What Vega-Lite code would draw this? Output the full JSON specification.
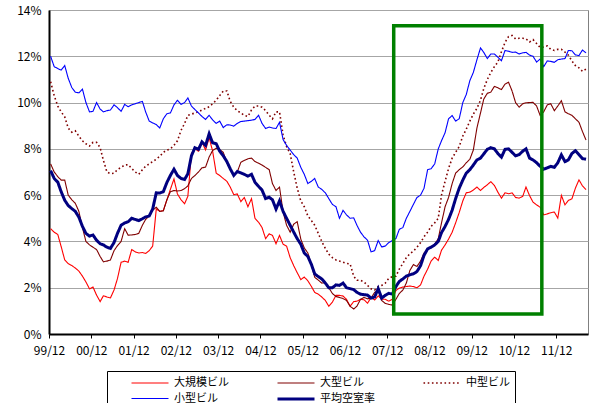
{
"$schema":"https://vega.github.io/schema/vega-lite/v6.json",
"width":539,"height":324,
"autosize":{"type":"none"},
"padding":{"left":49,"top":10,"right":1,"bottom":69},
"config":{"font":"Noto Sans CJK JP","view":{"stroke":"#808080","strokeWidth":1},
"legend":{"orient":"none","legendX":58,"legendY":361,"direction":"horizontal","columns":3,"gridAlign":"all","symbolType":"M-1,0H6.4","symbolSize":100,"labelFont":"Noto Sans CJK JP","labelFontSize":11,"labelColor":"black","labelOffset":31,"columnPadding":29,"rowPadding":3.5,"strokeColor":"black","padding":5,"symbolOffset":18,"title":null}},
"layer":[
{"data":{"values":[
{"t":"1999-12-15","s":"大規模ビル","v":4.55},
{"t":"2000-01-15","s":"大規模ビル","v":4.4},{"t":"2000-02-15","s":"大規模ビル","v":4.3},{"t":"2000-03-15","s":"大規模ビル","v":3.78},{"t":"2000-04-15","s":"大規模ビル","v":3.2},{"t":"2000-05-15","s":"大規模ビル","v":3.04},{"t":"2000-06-15","s":"大規模ビル","v":2.96},{"t":"2000-07-15","s":"大規模ビル","v":2.85},{"t":"2000-08-15","s":"大規模ビル","v":2.72},{"t":"2000-09-15","s":"大規模ビル","v":2.5},{"t":"2000-10-15","s":"大規模ビル","v":2.25},{"t":"2000-11-15","s":"大規模ビル","v":1.95},{"t":"2000-12-15","s":"大規模ビル","v":2.03},
{"t":"2001-01-15","s":"大規模ビル","v":1.68},{"t":"2001-02-15","s":"大規模ビル","v":1.4},{"t":"2001-03-15","s":"大規模ビル","v":1.65},{"t":"2001-04-15","s":"大規模ビル","v":1.6},{"t":"2001-05-15","s":"大規模ビル","v":1.56},{"t":"2001-06-15","s":"大規模ビル","v":1.9},{"t":"2001-07-15","s":"大規模ビル","v":2.4},{"t":"2001-08-15","s":"大規模ビル","v":3.1},{"t":"2001-09-15","s":"大規模ビル","v":3.15},{"t":"2001-10-15","s":"大規模ビル","v":3.1},{"t":"2001-11-15","s":"大規模ビル","v":3.65},{"t":"2001-12-15","s":"大規模ビル","v":3.55},
{"t":"2002-01-15","s":"大規模ビル","v":3.5},{"t":"2002-02-15","s":"大規模ビル","v":3.52},{"t":"2002-03-15","s":"大規模ビル","v":3.48},{"t":"2002-04-15","s":"大規模ビル","v":3.6},{"t":"2002-05-15","s":"大規模ビル","v":3.8},{"t":"2002-06-15","s":"大規模ビル","v":5.4},{"t":"2002-07-15","s":"大規模ビル","v":5.3},{"t":"2002-08-15","s":"大規模ビル","v":5.34},{"t":"2002-09-15","s":"大規模ビル","v":5.8},{"t":"2002-10-15","s":"大規模ビル","v":6.25},{"t":"2002-11-15","s":"大規模ビル","v":6.7},{"t":"2002-12-15","s":"大規模ビル","v":6.05},
{"t":"2003-01-15","s":"大規模ビル","v":5.8},{"t":"2003-02-15","s":"大規模ビル","v":5.63},{"t":"2003-03-15","s":"大規模ビル","v":5.95},{"t":"2003-04-15","s":"大規模ビル","v":7.8},{"t":"2003-05-15","s":"大規模ビル","v":8.0},{"t":"2003-06-15","s":"大規模ビル","v":7.9},{"t":"2003-07-15","s":"大規模ビル","v":8.3},{"t":"2003-08-15","s":"大規模ビル","v":7.95},{"t":"2003-09-15","s":"大規模ビル","v":8.48},{"t":"2003-10-15","s":"大規模ビル","v":7.9},{"t":"2003-11-15","s":"大規模ビル","v":6.95},{"t":"2003-12-15","s":"大規模ビル","v":6.85},
{"t":"2004-01-15","s":"大規模ビル","v":6.72},{"t":"2004-02-15","s":"大規模ビル","v":6.6},{"t":"2004-03-15","s":"大規模ビル","v":6.35},{"t":"2004-04-15","s":"大規模ビル","v":6.02},{"t":"2004-05-15","s":"大規模ビル","v":6.05},{"t":"2004-06-15","s":"大規模ビル","v":5.72},{"t":"2004-07-15","s":"大規模ビル","v":5.9},{"t":"2004-08-15","s":"大規模ビル","v":5.5},{"t":"2004-09-15","s":"大規模ビル","v":5.85},{"t":"2004-10-15","s":"大規模ビル","v":5.0},{"t":"2004-11-15","s":"大規模ビル","v":4.83},{"t":"2004-12-15","s":"大規模ビル","v":4.6},
{"t":"2005-01-15","s":"大規模ビル","v":4.12},{"t":"2005-02-15","s":"大規模ビル","v":4.33},{"t":"2005-03-15","s":"大規模ビル","v":4.26},{"t":"2005-04-15","s":"大規模ビル","v":3.9},{"t":"2005-05-15","s":"大規模ビル","v":4.26},{"t":"2005-06-15","s":"大規模ビル","v":3.88},{"t":"2005-07-15","s":"大規模ビル","v":3.8},{"t":"2005-08-15","s":"大規模ビル","v":3.3},{"t":"2005-09-15","s":"大規模ビル","v":2.95},{"t":"2005-10-15","s":"大規模ビル","v":2.65},{"t":"2005-11-15","s":"大規模ビル","v":2.35},{"t":"2005-12-15","s":"大規模ビル","v":2.46},
{"t":"2006-01-15","s":"大規模ビル","v":2.3},{"t":"2006-02-15","s":"大規模ビル","v":2.05},{"t":"2006-03-15","s":"大規模ビル","v":1.8},{"t":"2006-04-15","s":"大規模ビル","v":1.72},{"t":"2006-05-15","s":"大規模ビル","v":1.6},{"t":"2006-06-15","s":"大規模ビル","v":1.45},{"t":"2006-07-15","s":"大規模ビル","v":1.2},{"t":"2006-08-15","s":"大規模ビル","v":1.38},{"t":"2006-09-15","s":"大規模ビル","v":1.67},{"t":"2006-10-15","s":"大規模ビル","v":1.67},{"t":"2006-11-15","s":"大規模ビル","v":1.64},{"t":"2006-12-15","s":"大規模ビル","v":1.5},
{"t":"2007-01-15","s":"大規模ビル","v":1.2},{"t":"2007-02-15","s":"大規模ビル","v":1.4},{"t":"2007-03-15","s":"大規模ビル","v":1.42},{"t":"2007-04-15","s":"大規模ビル","v":1.5},{"t":"2007-05-15","s":"大規模ビル","v":1.48},{"t":"2007-06-15","s":"大規模ビル","v":1.33},{"t":"2007-07-15","s":"大規模ビル","v":1.58},{"t":"2007-08-15","s":"大規模ビル","v":1.47},{"t":"2007-09-15","s":"大規模ビル","v":1.65},{"t":"2007-10-15","s":"大規模ビル","v":1.5},{"t":"2007-11-15","s":"大規模ビル","v":1.5},{"t":"2007-12-15","s":"大規模ビル","v":1.42},
{"t":"2008-01-15","s":"大規模ビル","v":1.5},{"t":"2008-02-15","s":"大規模ビル","v":1.88},{"t":"2008-03-15","s":"大規模ビル","v":1.98},{"t":"2008-04-15","s":"大規模ビル","v":2.03},{"t":"2008-05-15","s":"大規模ビル","v":2.05},{"t":"2008-06-15","s":"大規模ビル","v":2.07},{"t":"2008-07-15","s":"大規模ビル","v":2.05},{"t":"2008-08-15","s":"大規模ビル","v":2.0},{"t":"2008-09-15","s":"大規模ビル","v":2.12},{"t":"2008-10-15","s":"大規模ビル","v":2.5},{"t":"2008-11-15","s":"大規模ビル","v":2.8},{"t":"2008-12-15","s":"大規模ビル","v":3.15},
{"t":"2009-01-15","s":"大規模ビル","v":3.32},{"t":"2009-02-15","s":"大規模ビル","v":3.18},{"t":"2009-03-15","s":"大規模ビル","v":3.62},{"t":"2009-04-15","s":"大規模ビル","v":3.85},{"t":"2009-05-15","s":"大規模ビル","v":4.1},{"t":"2009-06-15","s":"大規模ビル","v":4.4},{"t":"2009-07-15","s":"大規模ビル","v":4.8},{"t":"2009-08-15","s":"大規模ビル","v":5.25},{"t":"2009-09-15","s":"大規模ビル","v":5.75},{"t":"2009-10-15","s":"大規模ビル","v":6.1},{"t":"2009-11-15","s":"大規模ビル","v":6.13},{"t":"2009-12-15","s":"大規模ビル","v":6.22},
{"t":"2010-01-15","s":"大規模ビル","v":6.35},{"t":"2010-02-15","s":"大規模ビル","v":6.2},{"t":"2010-03-15","s":"大規模ビル","v":6.33},{"t":"2010-04-15","s":"大規模ビル","v":6.45},{"t":"2010-05-15","s":"大規模ビル","v":6.58},{"t":"2010-06-15","s":"大規模ビル","v":6.42},{"t":"2010-07-15","s":"大規模ビル","v":6.13},{"t":"2010-08-15","s":"大規模ビル","v":5.87},{"t":"2010-09-15","s":"大規模ビル","v":6.1},{"t":"2010-10-15","s":"大規模ビル","v":6.06},{"t":"2010-11-15","s":"大規模ビル","v":6.1},{"t":"2010-12-15","s":"大規模ビル","v":5.9},
{"t":"2011-01-15","s":"大規模ビル","v":5.87},{"t":"2011-02-15","s":"大規模ビル","v":5.95},{"t":"2011-03-15","s":"大規模ビル","v":6.35},{"t":"2011-04-15","s":"大規模ビル","v":5.98},{"t":"2011-05-15","s":"大規模ビル","v":5.7},{"t":"2011-06-15","s":"大規模ビル","v":5.58},{"t":"2011-07-15","s":"大規模ビル","v":5.48},{"t":"2011-08-15","s":"大規模ビル","v":5.15},{"t":"2011-09-15","s":"大規模ビル","v":5.19},{"t":"2011-10-15","s":"大規模ビル","v":5.24},{"t":"2011-11-15","s":"大規模ビル","v":5.27},{"t":"2011-12-15","s":"大規模ビル","v":5.01},
{"t":"2012-01-15","s":"大規模ビル","v":5.99},{"t":"2012-02-15","s":"大規模ビル","v":5.58},{"t":"2012-03-15","s":"大規模ビル","v":5.77},{"t":"2012-04-15","s":"大規模ビル","v":5.84},{"t":"2012-05-15","s":"大規模ビル","v":6.3},{"t":"2012-06-15","s":"大規模ビル","v":6.66},{"t":"2012-07-15","s":"大規模ビル","v":6.4},{"t":"2012-08-15","s":"大規模ビル","v":6.24},

{"t":"1999-12-15","s":"大型ビル","v":7.35},
{"t":"2000-01-15","s":"大型ビル","v":7.0},{"t":"2000-02-15","s":"大型ビル","v":6.8},{"t":"2000-03-15","s":"大型ビル","v":6.65},{"t":"2000-04-15","s":"大型ビル","v":6.65},{"t":"2000-05-15","s":"大型ビル","v":6.0},{"t":"2000-06-15","s":"大型ビル","v":5.8},{"t":"2000-07-15","s":"大型ビル","v":5.65},{"t":"2000-08-15","s":"大型ビル","v":5.3},{"t":"2000-09-15","s":"大型ビル","v":4.6},{"t":"2000-10-15","s":"大型ビル","v":4.0},{"t":"2000-11-15","s":"大型ビル","v":3.85},{"t":"2000-12-15","s":"大型ビル","v":3.75},
{"t":"2001-01-15","s":"大型ビル","v":3.65},{"t":"2001-02-15","s":"大型ビル","v":3.35},{"t":"2001-03-15","s":"大型ビル","v":3.12},{"t":"2001-04-15","s":"大型ビル","v":3.15},{"t":"2001-05-15","s":"大型ビル","v":3.2},{"t":"2001-06-15","s":"大型ビル","v":3.6},{"t":"2001-07-15","s":"大型ビル","v":3.82},{"t":"2001-08-15","s":"大型ビル","v":4.0},{"t":"2001-09-15","s":"大型ビル","v":4.55},{"t":"2001-10-15","s":"大型ビル","v":4.27},{"t":"2001-11-15","s":"大型ビル","v":4.28},{"t":"2001-12-15","s":"大型ビル","v":4.3},
{"t":"2002-01-15","s":"大型ビル","v":4.35},{"t":"2002-02-15","s":"大型ビル","v":4.7},{"t":"2002-03-15","s":"大型ビル","v":4.95},{"t":"2002-04-15","s":"大型ビル","v":5.1},{"t":"2002-05-15","s":"大型ビル","v":5.35},{"t":"2002-06-15","s":"大型ビル","v":5.48},{"t":"2002-07-15","s":"大型ビル","v":5.3},{"t":"2002-08-15","s":"大型ビル","v":5.32},{"t":"2002-09-15","s":"大型ビル","v":5.8},{"t":"2002-10-15","s":"大型ビル","v":6.15},{"t":"2002-11-15","s":"大型ビル","v":6.2},{"t":"2002-12-15","s":"大型ビル","v":6.18},
{"t":"2003-01-15","s":"大型ビル","v":6.2},{"t":"2003-02-15","s":"大型ビル","v":6.28},{"t":"2003-03-15","s":"大型ビル","v":6.4},{"t":"2003-04-15","s":"大型ビル","v":6.72},{"t":"2003-05-15","s":"大型ビル","v":6.85},{"t":"2003-06-15","s":"大型ビル","v":7.0},{"t":"2003-07-15","s":"大型ビル","v":7.18},{"t":"2003-08-15","s":"大型ビル","v":7.21},{"t":"2003-09-15","s":"大型ビル","v":7.65},{"t":"2003-10-15","s":"大型ビル","v":7.93},{"t":"2003-11-15","s":"大型ビル","v":8.03},{"t":"2003-12-15","s":"大型ビル","v":7.97},
{"t":"2004-01-15","s":"大型ビル","v":7.85},{"t":"2004-02-15","s":"大型ビル","v":7.4},{"t":"2004-03-15","s":"大型ビル","v":7.14},{"t":"2004-04-15","s":"大型ビル","v":6.85},{"t":"2004-05-15","s":"大型ビル","v":7.0},{"t":"2004-06-15","s":"大型ビル","v":7.42},{"t":"2004-07-15","s":"大型ビル","v":7.5},{"t":"2004-08-15","s":"大型ビル","v":7.57},{"t":"2004-09-15","s":"大型ビル","v":7.6},{"t":"2004-10-15","s":"大型ビル","v":7.45},{"t":"2004-11-15","s":"大型ビル","v":7.38},{"t":"2004-12-15","s":"大型ビル","v":7.3},
{"t":"2005-01-15","s":"大型ビル","v":7.2},{"t":"2005-02-15","s":"大型ビル","v":7.1},{"t":"2005-03-15","s":"大型ビル","v":6.5},{"t":"2005-04-15","s":"大型ビル","v":6.2},{"t":"2005-05-15","s":"大型ビル","v":6.35},{"t":"2005-06-15","s":"大型ビル","v":5.27},{"t":"2005-07-15","s":"大型ビル","v":4.7},{"t":"2005-08-15","s":"大型ビル","v":4.4},{"t":"2005-09-15","s":"大型ビル","v":4.75},{"t":"2005-10-15","s":"大型ビル","v":4.85},{"t":"2005-11-15","s":"大型ビル","v":4.1},{"t":"2005-12-15","s":"大型ビル","v":3.72},
{"t":"2006-01-15","s":"大型ビル","v":3.5},{"t":"2006-02-15","s":"大型ビル","v":3.0},{"t":"2006-03-15","s":"大型ビル","v":2.45},{"t":"2006-04-15","s":"大型ビル","v":2.33},{"t":"2006-05-15","s":"大型ビル","v":2.2},{"t":"2006-06-15","s":"大型ビル","v":2.22},{"t":"2006-07-15","s":"大型ビル","v":2.0},{"t":"2006-08-15","s":"大型ビル","v":1.75},{"t":"2006-09-15","s":"大型ビル","v":1.62},{"t":"2006-10-15","s":"大型ビル","v":1.58},{"t":"2006-11-15","s":"大型ビル","v":1.53},{"t":"2006-12-15","s":"大型ビル","v":1.45},
{"t":"2007-01-15","s":"大型ビル","v":1.2},{"t":"2007-02-15","s":"大型ビル","v":1.08},{"t":"2007-03-15","s":"大型ビル","v":1.2},{"t":"2007-04-15","s":"大型ビル","v":1.5},{"t":"2007-05-15","s":"大型ビル","v":1.58},{"t":"2007-06-15","s":"大型ビル","v":1.52},{"t":"2007-07-15","s":"大型ビル","v":1.55},{"t":"2007-08-15","s":"大型ビル","v":1.8},{"t":"2007-09-15","s":"大型ビル","v":1.88},{"t":"2007-10-15","s":"大型ビル","v":1.45},{"t":"2007-11-15","s":"大型ビル","v":1.32},{"t":"2007-12-15","s":"大型ビル","v":1.28},
{"t":"2008-01-15","s":"大型ビル","v":1.25},{"t":"2008-02-15","s":"大型ビル","v":1.5},{"t":"2008-03-15","s":"大型ビル","v":1.75},{"t":"2008-04-15","s":"大型ビル","v":1.9},{"t":"2008-05-15","s":"大型ビル","v":2.2},{"t":"2008-06-15","s":"大型ビル","v":2.75},{"t":"2008-07-15","s":"大型ビル","v":3.0},{"t":"2008-08-15","s":"大型ビル","v":2.92},{"t":"2008-09-15","s":"大型ビル","v":3.15},{"t":"2008-10-15","s":"大型ビル","v":3.5},{"t":"2008-11-15","s":"大型ビル","v":3.65},{"t":"2008-12-15","s":"大型ビル","v":3.75},
{"t":"2009-01-15","s":"大型ビル","v":3.88},{"t":"2009-02-15","s":"大型ビル","v":4.12},{"t":"2009-03-15","s":"大型ビル","v":4.8},{"t":"2009-04-15","s":"大型ビル","v":5.5},{"t":"2009-05-15","s":"大型ビル","v":5.9},{"t":"2009-06-15","s":"大型ビル","v":6.5},{"t":"2009-07-15","s":"大型ビル","v":6.95},{"t":"2009-08-15","s":"大型ビル","v":7.1},{"t":"2009-09-15","s":"大型ビル","v":7.22},{"t":"2009-10-15","s":"大型ビル","v":7.4},{"t":"2009-11-15","s":"大型ビル","v":7.55},{"t":"2009-12-15","s":"大型ビル","v":7.95},
{"t":"2010-01-15","s":"大型ビル","v":8.9},{"t":"2010-02-15","s":"大型ビル","v":9.55},{"t":"2010-03-15","s":"大型ビル","v":10.15},{"t":"2010-04-15","s":"大型ビル","v":10.4},{"t":"2010-05-15","s":"大型ビル","v":10.45},{"t":"2010-06-15","s":"大型ビル","v":10.7},{"t":"2010-07-15","s":"大型ビル","v":10.64},{"t":"2010-08-15","s":"大型ビル","v":10.56},{"t":"2010-09-15","s":"大型ビル","v":10.8},{"t":"2010-10-15","s":"大型ビル","v":10.88},{"t":"2010-11-15","s":"大型ビル","v":10.5},{"t":"2010-12-15","s":"大型ビル","v":10.0},
{"t":"2011-01-15","s":"大型ビル","v":9.8},{"t":"2011-02-15","s":"大型ビル","v":9.95},{"t":"2011-03-15","s":"大型ビル","v":9.99},{"t":"2011-04-15","s":"大型ビル","v":10.0},{"t":"2011-05-15","s":"大型ビル","v":10.01},{"t":"2011-06-15","s":"大型ビル","v":9.85},{"t":"2011-07-15","s":"大型ビル","v":9.45},{"t":"2011-08-15","s":"大型ビル","v":9.6},{"t":"2011-09-15","s":"大型ビル","v":9.9},{"t":"2011-10-15","s":"大型ビル","v":9.95},{"t":"2011-11-15","s":"大型ビル","v":9.65},{"t":"2011-12-15","s":"大型ビル","v":9.85},
{"t":"2012-01-15","s":"大型ビル","v":10.08},{"t":"2012-02-15","s":"大型ビル","v":9.6},{"t":"2012-03-15","s":"大型ビル","v":9.52},{"t":"2012-04-15","s":"大型ビル","v":9.45},{"t":"2012-05-15","s":"大型ビル","v":9.3},{"t":"2012-06-15","s":"大型ビル","v":9.15},{"t":"2012-07-15","s":"大型ビル","v":8.75},{"t":"2012-08-15","s":"大型ビル","v":8.38},

{"t":"1999-12-15","s":"中型ビル","v":10.9},
{"t":"2000-01-15","s":"中型ビル","v":10.3},{"t":"2000-02-15","s":"中型ビル","v":9.85},{"t":"2000-03-15","s":"中型ビル","v":9.6},{"t":"2000-04-15","s":"中型ビル","v":9.38},{"t":"2000-05-15","s":"中型ビル","v":8.9},{"t":"2000-06-15","s":"中型ビル","v":8.72},{"t":"2000-07-15","s":"中型ビル","v":8.78},{"t":"2000-08-15","s":"中型ビル","v":8.55},{"t":"2000-09-15","s":"中型ビル","v":8.35},{"t":"2000-10-15","s":"中型ビル","v":8.22},{"t":"2000-11-15","s":"中型ビル","v":8.12},{"t":"2000-12-15","s":"中型ビル","v":8.28},
{"t":"2001-01-15","s":"中型ビル","v":8.28},{"t":"2001-02-15","s":"中型ビル","v":8.05},{"t":"2001-03-15","s":"中型ビル","v":7.5},{"t":"2001-04-15","s":"中型ビル","v":7.0},{"t":"2001-05-15","s":"中型ビル","v":6.93},{"t":"2001-06-15","s":"中型ビル","v":6.95},{"t":"2001-07-15","s":"中型ビル","v":7.1},{"t":"2001-08-15","s":"中型ビル","v":7.2},{"t":"2001-09-15","s":"中型ビル","v":7.3},{"t":"2001-10-15","s":"中型ビル","v":7.32},{"t":"2001-11-15","s":"中型ビル","v":7.15},{"t":"2001-12-15","s":"中型ビル","v":7.0},
{"t":"2002-01-15","s":"中型ビル","v":6.9},{"t":"2002-02-15","s":"中型ビル","v":7.1},{"t":"2002-03-15","s":"中型ビル","v":7.25},{"t":"2002-04-15","s":"中型ビル","v":7.35},{"t":"2002-05-15","s":"中型ビル","v":7.45},{"t":"2002-06-15","s":"中型ビル","v":7.55},{"t":"2002-07-15","s":"中型ビル","v":7.68},{"t":"2002-08-15","s":"中型ビル","v":7.85},{"t":"2002-09-15","s":"中型ビル","v":7.95},{"t":"2002-10-15","s":"中型ビル","v":8.0},{"t":"2002-11-15","s":"中型ビル","v":8.15},{"t":"2002-12-15","s":"中型ビル","v":8.35},
{"t":"2003-01-15","s":"中型ビル","v":8.8},{"t":"2003-02-15","s":"中型ビル","v":9.1},{"t":"2003-03-15","s":"中型ビル","v":9.45},{"t":"2003-04-15","s":"中型ビル","v":9.5},{"t":"2003-05-15","s":"中型ビル","v":9.55},{"t":"2003-06-15","s":"中型ビル","v":9.6},{"t":"2003-07-15","s":"中型ビル","v":9.68},{"t":"2003-08-15","s":"中型ビル","v":9.75},{"t":"2003-09-15","s":"中型ビル","v":9.82},{"t":"2003-10-15","s":"中型ビル","v":9.95},{"t":"2003-11-15","s":"中型ビル","v":10.1},{"t":"2003-12-15","s":"中型ビル","v":10.3},
{"t":"2004-01-15","s":"中型ビル","v":10.5},{"t":"2004-02-15","s":"中型ビル","v":10.5},{"t":"2004-03-15","s":"中型ビル","v":10.05},{"t":"2004-04-15","s":"中型ビル","v":9.8},{"t":"2004-05-15","s":"中型ビル","v":9.65},{"t":"2004-06-15","s":"中型ビル","v":9.55},{"t":"2004-07-15","s":"中型ビル","v":9.45},{"t":"2004-08-15","s":"中型ビル","v":9.4},{"t":"2004-09-15","s":"中型ビル","v":9.68},{"t":"2004-10-15","s":"中型ビル","v":9.85},{"t":"2004-11-15","s":"中型ビル","v":9.85},{"t":"2004-12-15","s":"中型ビル","v":9.8},
{"t":"2005-01-15","s":"中型ビル","v":9.65},{"t":"2005-02-15","s":"中型ビル","v":9.45},{"t":"2005-03-15","s":"中型ビル","v":9.3},{"t":"2005-04-15","s":"中型ビル","v":9.6},{"t":"2005-05-15","s":"中型ビル","v":9.6},{"t":"2005-06-15","s":"中型ビル","v":8.6},{"t":"2005-07-15","s":"中型ビル","v":8.1},{"t":"2005-08-15","s":"中型ビル","v":7.8},{"t":"2005-09-15","s":"中型ビル","v":7.0},{"t":"2005-10-15","s":"中型ビル","v":6.3},{"t":"2005-11-15","s":"中型ビル","v":5.75},{"t":"2005-12-15","s":"中型ビル","v":5.5},
{"t":"2006-01-15","s":"中型ビル","v":5.1},{"t":"2006-02-15","s":"中型ビル","v":4.9},{"t":"2006-03-15","s":"中型ビル","v":4.7},{"t":"2006-04-15","s":"中型ビル","v":4.35},{"t":"2006-05-15","s":"中型ビル","v":4.0},{"t":"2006-06-15","s":"中型ビル","v":3.7},{"t":"2006-07-15","s":"中型ビル","v":3.45},{"t":"2006-08-15","s":"中型ビル","v":3.3},{"t":"2006-09-15","s":"中型ビル","v":3.2},{"t":"2006-10-15","s":"中型ビル","v":3.15},{"t":"2006-11-15","s":"中型ビル","v":3.1},{"t":"2006-12-15","s":"中型ビル","v":3.05},
{"t":"2007-01-15","s":"中型ビル","v":3.03},{"t":"2007-02-15","s":"中型ビル","v":2.5},{"t":"2007-03-15","s":"中型ビル","v":2.32},{"t":"2007-04-15","s":"中型ビル","v":2.32},{"t":"2007-05-15","s":"中型ビル","v":2.25},{"t":"2007-06-15","s":"中型ビル","v":2.1},{"t":"2007-07-15","s":"中型ビル","v":1.95},{"t":"2007-08-15","s":"中型ビル","v":1.9},{"t":"2007-09-15","s":"中型ビル","v":2.05},{"t":"2007-10-15","s":"中型ビル","v":2.1},{"t":"2007-11-15","s":"中型ビル","v":2.2},{"t":"2007-12-15","s":"中型ビル","v":2.4},
{"t":"2008-01-15","s":"中型ビル","v":2.48},{"t":"2008-02-15","s":"中型ビル","v":2.5},{"t":"2008-03-15","s":"中型ビル","v":2.8},{"t":"2008-04-15","s":"中型ビル","v":3.05},{"t":"2008-05-15","s":"中型ビル","v":3.3},{"t":"2008-06-15","s":"中型ビル","v":3.47},{"t":"2008-07-15","s":"中型ビル","v":3.58},{"t":"2008-08-15","s":"中型ビル","v":3.75},{"t":"2008-09-15","s":"中型ビル","v":3.95},{"t":"2008-10-15","s":"中型ビル","v":4.2},{"t":"2008-11-15","s":"中型ビル","v":4.4},{"t":"2008-12-15","s":"中型ビル","v":4.65},
{"t":"2009-01-15","s":"中型ビル","v":4.8},{"t":"2009-02-15","s":"中型ビル","v":5.0},{"t":"2009-03-15","s":"中型ビル","v":6.0},{"t":"2009-04-15","s":"中型ビル","v":6.6},{"t":"2009-05-15","s":"中型ビル","v":7.15},{"t":"2009-06-15","s":"中型ビル","v":7.6},{"t":"2009-07-15","s":"中型ビル","v":7.85},{"t":"2009-08-15","s":"中型ビル","v":8.1},{"t":"2009-09-15","s":"中型ビル","v":8.55},{"t":"2009-10-15","s":"中型ビル","v":8.85},{"t":"2009-11-15","s":"中型ビル","v":9.2},{"t":"2009-12-15","s":"中型ビル","v":9.5},
{"t":"2010-01-15","s":"中型ビル","v":9.75},{"t":"2010-02-15","s":"中型ビル","v":10.1},{"t":"2010-03-15","s":"中型ビル","v":10.6},{"t":"2010-04-15","s":"中型ビル","v":11.0},{"t":"2010-05-15","s":"中型ビル","v":11.3},{"t":"2010-06-15","s":"中型ビル","v":11.55},{"t":"2010-07-15","s":"中型ビル","v":11.75},{"t":"2010-08-15","s":"中型ビル","v":12.2},{"t":"2010-09-15","s":"中型ビル","v":12.6},{"t":"2010-10-15","s":"中型ビル","v":12.85},{"t":"2010-11-15","s":"中型ビル","v":12.9},{"t":"2010-12-15","s":"中型ビル","v":12.75},
{"t":"2011-01-15","s":"中型ビル","v":12.78},{"t":"2011-02-15","s":"中型ビル","v":12.78},{"t":"2011-03-15","s":"中型ビル","v":12.75},{"t":"2011-04-15","s":"中型ビル","v":12.62},{"t":"2011-05-15","s":"中型ビル","v":12.72},{"t":"2011-06-15","s":"中型ビル","v":12.55},{"t":"2011-07-15","s":"中型ビル","v":12.38},{"t":"2011-08-15","s":"中型ビル","v":12.4},{"t":"2011-09-15","s":"中型ビル","v":12.45},{"t":"2011-10-15","s":"中型ビル","v":12.3},{"t":"2011-11-15","s":"中型ビル","v":12.25},{"t":"2011-12-15","s":"中型ビル","v":12.3},
{"t":"2012-01-15","s":"中型ビル","v":12.3},{"t":"2012-02-15","s":"中型ビル","v":12.18},{"t":"2012-03-15","s":"中型ビル","v":12.05},{"t":"2012-04-15","s":"中型ビル","v":11.8},{"t":"2012-05-15","s":"中型ビル","v":11.6},{"t":"2012-06-15","s":"中型ビル","v":11.5},{"t":"2012-07-15","s":"中型ビル","v":11.35},{"t":"2012-08-15","s":"中型ビル","v":11.45},

{"t":"1999-12-15","s":"小型ビル","v":12.0},
{"t":"2000-01-15","s":"小型ビル","v":11.55},{"t":"2000-02-15","s":"小型ビル","v":11.47},{"t":"2000-03-15","s":"小型ビル","v":11.4},{"t":"2000-04-15","s":"小型ビル","v":11.6},{"t":"2000-05-15","s":"小型ビル","v":11.05},{"t":"2000-06-15","s":"小型ビル","v":10.65},{"t":"2000-07-15","s":"小型ビル","v":10.45},{"t":"2000-08-15","s":"小型ビル","v":10.42},{"t":"2000-09-15","s":"小型ビル","v":10.58},{"t":"2000-10-15","s":"小型ビル","v":10.0},{"t":"2000-11-15","s":"小型ビル","v":9.6},{"t":"2000-12-15","s":"小型ビル","v":9.62},
{"t":"2001-01-15","s":"小型ビル","v":10.0},{"t":"2001-02-15","s":"小型ビル","v":9.72},{"t":"2001-03-15","s":"小型ビル","v":9.6},{"t":"2001-04-15","s":"小型ビル","v":9.65},{"t":"2001-05-15","s":"小型ビル","v":9.68},{"t":"2001-06-15","s":"小型ビル","v":9.9},{"t":"2001-07-15","s":"小型ビル","v":9.78},{"t":"2001-08-15","s":"小型ビル","v":9.62},{"t":"2001-09-15","s":"小型ビル","v":9.92},{"t":"2001-10-15","s":"小型ビル","v":9.82},{"t":"2001-11-15","s":"小型ビル","v":9.9},{"t":"2001-12-15","s":"小型ビル","v":9.95},
{"t":"2002-01-15","s":"小型ビル","v":10.0},{"t":"2002-02-15","s":"小型ビル","v":10.05},{"t":"2002-03-15","s":"小型ビル","v":9.6},{"t":"2002-04-15","s":"小型ビル","v":9.2},{"t":"2002-05-15","s":"小型ビル","v":9.12},{"t":"2002-06-15","s":"小型ビル","v":9.05},{"t":"2002-07-15","s":"小型ビル","v":8.9},{"t":"2002-08-15","s":"小型ビル","v":9.3},{"t":"2002-09-15","s":"小型ビル","v":9.52},{"t":"2002-10-15","s":"小型ビル","v":9.55},{"t":"2002-11-15","s":"小型ビル","v":9.9},{"t":"2002-12-15","s":"小型ビル","v":10.1},
{"t":"2003-01-15","s":"小型ビル","v":9.92},{"t":"2003-02-15","s":"小型ビル","v":10.0},{"t":"2003-03-15","s":"小型ビル","v":10.2},{"t":"2003-04-15","s":"小型ビル","v":9.85},{"t":"2003-05-15","s":"小型ビル","v":9.7},{"t":"2003-06-15","s":"小型ビル","v":9.55},{"t":"2003-07-15","s":"小型ビル","v":9.4},{"t":"2003-08-15","s":"小型ビル","v":9.27},{"t":"2003-09-15","s":"小型ビル","v":9.45},{"t":"2003-10-15","s":"小型ビル","v":9.25},{"t":"2003-11-15","s":"小型ビル","v":9.1},{"t":"2003-12-15","s":"小型ビル","v":9.2},
{"t":"2004-01-15","s":"小型ビル","v":8.92},{"t":"2004-02-15","s":"小型ビル","v":9.04},{"t":"2004-03-15","s":"小型ビル","v":9.03},{"t":"2004-04-15","s":"小型ビル","v":8.98},{"t":"2004-05-15","s":"小型ビル","v":9.1},{"t":"2004-06-15","s":"小型ビル","v":9.18},{"t":"2004-07-15","s":"小型ビル","v":9.2},{"t":"2004-08-15","s":"小型ビル","v":9.22},{"t":"2004-09-15","s":"小型ビル","v":9.24},{"t":"2004-10-15","s":"小型ビル","v":9.27},{"t":"2004-11-15","s":"小型ビル","v":9.45},{"t":"2004-12-15","s":"小型ビル","v":9.1},
{"t":"2005-01-15","s":"小型ビル","v":8.88},{"t":"2005-02-15","s":"小型ビル","v":8.94},{"t":"2005-03-15","s":"小型ビル","v":8.9},{"t":"2005-04-15","s":"小型ビル","v":8.88},{"t":"2005-05-15","s":"小型ビル","v":9.15},{"t":"2005-06-15","s":"小型ビル","v":8.4},{"t":"2005-07-15","s":"小型ビル","v":8.15},{"t":"2005-08-15","s":"小型ビル","v":7.95},{"t":"2005-09-15","s":"小型ビル","v":7.75},{"t":"2005-10-15","s":"小型ビル","v":7.6},{"t":"2005-11-15","s":"小型ビル","v":7.2},{"t":"2005-12-15","s":"小型ビル","v":6.9},
{"t":"2006-01-15","s":"小型ビル","v":6.5},{"t":"2006-02-15","s":"小型ビル","v":6.6},{"t":"2006-03-15","s":"小型ビル","v":6.72},{"t":"2006-04-15","s":"小型ビル","v":6.35},{"t":"2006-05-15","s":"小型ビル","v":6.25},{"t":"2006-06-15","s":"小型ビル","v":6.1},{"t":"2006-07-15","s":"小型ビル","v":5.85},{"t":"2006-08-15","s":"小型ビル","v":5.6},{"t":"2006-09-15","s":"小型ビル","v":5.5},{"t":"2006-10-15","s":"小型ビル","v":5.0},{"t":"2006-11-15","s":"小型ビル","v":5.34},{"t":"2006-12-15","s":"小型ビル","v":5.15},
{"t":"2007-01-15","s":"小型ビル","v":5.0},{"t":"2007-02-15","s":"小型ビル","v":5.02},{"t":"2007-03-15","s":"小型ビル","v":4.7},{"t":"2007-04-15","s":"小型ビル","v":4.4},{"t":"2007-05-15","s":"小型ビル","v":4.2},{"t":"2007-06-15","s":"小型ビル","v":4.05},{"t":"2007-07-15","s":"小型ビル","v":3.55},{"t":"2007-08-15","s":"小型ビル","v":3.6},{"t":"2007-09-15","s":"小型ビル","v":4.04},{"t":"2007-10-15","s":"小型ビル","v":3.76},{"t":"2007-11-15","s":"小型ビル","v":3.8},{"t":"2007-12-15","s":"小型ビル","v":3.95},
{"t":"2008-01-15","s":"小型ビル","v":4.04},{"t":"2008-02-15","s":"小型ビル","v":4.12},{"t":"2008-03-15","s":"小型ビル","v":4.52},{"t":"2008-04-15","s":"小型ビル","v":4.6},{"t":"2008-05-15","s":"小型ビル","v":5.0},{"t":"2008-06-15","s":"小型ビル","v":5.3},{"t":"2008-07-15","s":"小型ビル","v":5.6},{"t":"2008-08-15","s":"小型ビル","v":5.9},{"t":"2008-09-15","s":"小型ビル","v":6.0},{"t":"2008-10-15","s":"小型ビル","v":6.3},{"t":"2008-11-15","s":"小型ビル","v":7.1},{"t":"2008-12-15","s":"小型ビル","v":7.14},
{"t":"2009-01-15","s":"小型ビル","v":7.35},{"t":"2009-02-15","s":"小型ビル","v":8.0},{"t":"2009-03-15","s":"小型ビル","v":8.35},{"t":"2009-04-15","s":"小型ビル","v":8.7},{"t":"2009-05-15","s":"小型ビル","v":9.3},{"t":"2009-06-15","s":"小型ビル","v":9.44},{"t":"2009-07-15","s":"小型ビル","v":9.2},{"t":"2009-08-15","s":"小型ビル","v":9.3},{"t":"2009-09-15","s":"小型ビル","v":10.0},{"t":"2009-10-15","s":"小型ビル","v":10.35},{"t":"2009-11-15","s":"小型ビル","v":10.95},{"t":"2009-12-15","s":"小型ビル","v":11.3},
{"t":"2010-01-15","s":"小型ビル","v":11.85},{"t":"2010-02-15","s":"小型ビル","v":12.36},{"t":"2010-03-15","s":"小型ビル","v":12.17},{"t":"2010-04-15","s":"小型ビル","v":11.9},{"t":"2010-05-15","s":"小型ビル","v":12.1},{"t":"2010-06-15","s":"小型ビル","v":12.1},{"t":"2010-07-15","s":"小型ビル","v":11.96},{"t":"2010-08-15","s":"小型ビル","v":11.81},{"t":"2010-09-15","s":"小型ビル","v":12.25},{"t":"2010-10-15","s":"小型ビル","v":12.22},{"t":"2010-11-15","s":"小型ビル","v":12.17},{"t":"2010-12-15","s":"小型ビル","v":12.18},
{"t":"2011-01-15","s":"小型ビル","v":12.1},{"t":"2011-02-15","s":"小型ビル","v":12.15},{"t":"2011-03-15","s":"小型ビル","v":12.17},{"t":"2011-04-15","s":"小型ビル","v":12.05},{"t":"2011-05-15","s":"小型ビル","v":12.0},{"t":"2011-06-15","s":"小型ビル","v":11.75},{"t":"2011-07-15","s":"小型ビル","v":11.88},{"t":"2011-08-15","s":"小型ビル","v":11.55},{"t":"2011-09-15","s":"小型ビル","v":11.8},{"t":"2011-10-15","s":"小型ビル","v":11.78},{"t":"2011-11-15","s":"小型ビル","v":11.74},{"t":"2011-12-15","s":"小型ビル","v":11.85},
{"t":"2012-01-15","s":"小型ビル","v":11.88},{"t":"2012-02-15","s":"小型ビル","v":11.9},{"t":"2012-03-15","s":"小型ビル","v":12.25},{"t":"2012-04-15","s":"小型ビル","v":12.24},{"t":"2012-05-15","s":"小型ビル","v":12.06},{"t":"2012-06-15","s":"小型ビル","v":12.03},{"t":"2012-07-15","s":"小型ビル","v":12.27},{"t":"2012-08-15","s":"小型ビル","v":12.15},

{"t":"1999-12-15","s":"平均空室率","v":7.06},
{"t":"2000-01-15","s":"平均空室率","v":6.72},{"t":"2000-02-15","s":"平均空室率","v":6.56},{"t":"2000-03-15","s":"平均空室率","v":6.15},{"t":"2000-04-15","s":"平均空室率","v":5.78},{"t":"2000-05-15","s":"平均空室率","v":5.55},{"t":"2000-06-15","s":"平均空室率","v":5.42},{"t":"2000-07-15","s":"平均空室率","v":5.3},{"t":"2000-08-15","s":"平均空室率","v":5.05},{"t":"2000-09-15","s":"平均空室率","v":4.65},{"t":"2000-10-15","s":"平均空室率","v":4.35},{"t":"2000-11-15","s":"平均空室率","v":4.23},{"t":"2000-12-15","s":"平均空室率","v":4.28},
{"t":"2001-01-15","s":"平均空室率","v":4.05},{"t":"2001-02-15","s":"平均空室率","v":3.9},{"t":"2001-03-15","s":"平均空室率","v":3.85},{"t":"2001-04-15","s":"平均空室率","v":3.75},{"t":"2001-05-15","s":"平均空室率","v":3.7},{"t":"2001-06-15","s":"平均空室率","v":3.95},{"t":"2001-07-15","s":"平均空室率","v":4.35},{"t":"2001-08-15","s":"平均空室率","v":4.7},{"t":"2001-09-15","s":"平均空室率","v":4.8},{"t":"2001-10-15","s":"平均空室率","v":4.85},{"t":"2001-11-15","s":"平均空室率","v":5.0},{"t":"2001-12-15","s":"平均空室率","v":4.95},
{"t":"2002-01-15","s":"平均空室率","v":4.9},{"t":"2002-02-15","s":"平均空室率","v":4.98},{"t":"2002-03-15","s":"平均空室率","v":5.06},{"t":"2002-04-15","s":"平均空室率","v":5.1},{"t":"2002-05-15","s":"平均空室率","v":5.4},{"t":"2002-06-15","s":"平均空室率","v":6.1},{"t":"2002-07-15","s":"平均空室率","v":6.09},{"t":"2002-08-15","s":"平均空室率","v":6.15},{"t":"2002-09-15","s":"平均空室率","v":6.55},{"t":"2002-10-15","s":"平均空室率","v":6.85},{"t":"2002-11-15","s":"平均空室率","v":7.12},{"t":"2002-12-15","s":"平均空室率","v":6.85},
{"t":"2003-01-15","s":"平均空室率","v":6.72},{"t":"2003-02-15","s":"平均空室率","v":6.68},{"t":"2003-03-15","s":"平均空室率","v":6.92},{"t":"2003-04-15","s":"平均空室率","v":7.7},{"t":"2003-05-15","s":"平均空室率","v":8.05},{"t":"2003-06-15","s":"平均空室率","v":7.98},{"t":"2003-07-15","s":"平均空室率","v":8.3},{"t":"2003-08-15","s":"平均空室率","v":8.15},{"t":"2003-09-15","s":"平均空室率","v":8.65},{"t":"2003-10-15","s":"平均空室率","v":8.26},{"t":"2003-11-15","s":"平均空室率","v":8.22},{"t":"2003-12-15","s":"平均空室率","v":7.9},
{"t":"2004-01-15","s":"平均空室率","v":7.7},{"t":"2004-02-15","s":"平均空室率","v":7.45},{"t":"2004-03-15","s":"平均空室率","v":7.14},{"t":"2004-04-15","s":"平均空室率","v":6.85},{"t":"2004-05-15","s":"平均空室率","v":7.02},{"t":"2004-06-15","s":"平均空室率","v":6.96},{"t":"2004-07-15","s":"平均空室率","v":6.9},{"t":"2004-08-15","s":"平均空室率","v":6.82},{"t":"2004-09-15","s":"平均空室率","v":6.9},{"t":"2004-10-15","s":"平均空室率","v":6.56},{"t":"2004-11-15","s":"平均空室率","v":6.38},{"t":"2004-12-15","s":"平均空室率","v":6.22},
{"t":"2005-01-15","s":"平均空室率","v":5.85},{"t":"2005-02-15","s":"平均空室率","v":5.91},{"t":"2005-03-15","s":"平均空室率","v":5.8},{"t":"2005-04-15","s":"平均空室率","v":5.4},{"t":"2005-05-15","s":"平均空室率","v":5.75},{"t":"2005-06-15","s":"平均空室率","v":5.3},{"t":"2005-07-15","s":"平均空室率","v":5.0},{"t":"2005-08-15","s":"平均空室率","v":4.7},{"t":"2005-09-15","s":"平均空室率","v":4.4},{"t":"2005-10-15","s":"平均空室率","v":4.12},{"t":"2005-11-15","s":"平均空室率","v":3.88},{"t":"2005-12-15","s":"平均空室率","v":3.5},
{"t":"2006-01-15","s":"平均空室率","v":3.35},{"t":"2006-02-15","s":"平均空室率","v":3.0},{"t":"2006-03-15","s":"平均空室率","v":2.6},{"t":"2006-04-15","s":"平均空室率","v":2.48},{"t":"2006-05-15","s":"平均空室率","v":2.38},{"t":"2006-06-15","s":"平均空室率","v":2.2},{"t":"2006-07-15","s":"平均空室率","v":2.0},{"t":"2006-08-15","s":"平均空室率","v":2.0},{"t":"2006-09-15","s":"平均空室率","v":2.12},{"t":"2006-10-15","s":"平均空室率","v":2.1},{"t":"2006-11-15","s":"平均空室率","v":2.2},{"t":"2006-12-15","s":"平均空室率","v":2.0},
{"t":"2007-01-15","s":"平均空室率","v":1.96},{"t":"2007-02-15","s":"平均空室率","v":1.92},{"t":"2007-03-15","s":"平均空室率","v":1.8},{"t":"2007-04-15","s":"平均空室率","v":1.72},{"t":"2007-05-15","s":"平均空室率","v":1.7},{"t":"2007-06-15","s":"平均空室率","v":1.68},{"t":"2007-07-15","s":"平均空室率","v":1.55},{"t":"2007-08-15","s":"平均空室率","v":1.6},{"t":"2007-09-15","s":"平均空室率","v":1.96},{"t":"2007-10-15","s":"平均空室率","v":1.55},{"t":"2007-11-15","s":"平均空室率","v":1.67},{"t":"2007-12-15","s":"平均空室率","v":1.76},
{"t":"2008-01-15","s":"平均空室率","v":1.72},{"t":"2008-02-15","s":"平均空室率","v":2.05},{"t":"2008-03-15","s":"平均空室率","v":2.27},{"t":"2008-04-15","s":"平均空室率","v":2.38},{"t":"2008-05-15","s":"平均空室率","v":2.5},{"t":"2008-06-15","s":"平均空室率","v":2.56},{"t":"2008-07-15","s":"平均空室率","v":2.6},{"t":"2008-08-15","s":"平均空室率","v":2.7},{"t":"2008-09-15","s":"平均空室率","v":2.95},{"t":"2008-10-15","s":"平均空室率","v":3.4},{"t":"2008-11-15","s":"平均空室率","v":3.68},{"t":"2008-12-15","s":"平均空室率","v":3.75},
{"t":"2009-01-15","s":"平均空室率","v":3.85},{"t":"2009-02-15","s":"平均空室率","v":4.0},{"t":"2009-03-15","s":"平均空室率","v":4.38},{"t":"2009-04-15","s":"平均空室率","v":4.65},{"t":"2009-05-15","s":"平均空室率","v":4.95},{"t":"2009-06-15","s":"平均空室率","v":5.35},{"t":"2009-07-15","s":"平均空室率","v":5.85},{"t":"2009-08-15","s":"平均空室率","v":6.3},{"t":"2009-09-15","s":"平均空室率","v":6.65},{"t":"2009-10-15","s":"平均空室率","v":6.95},{"t":"2009-11-15","s":"平均空室率","v":7.1},{"t":"2009-12-15","s":"平均空室率","v":7.3},
{"t":"2010-01-15","s":"平均空室率","v":7.52},{"t":"2010-02-15","s":"平均空室率","v":7.6},{"t":"2010-03-15","s":"平均空室率","v":7.78},{"t":"2010-04-15","s":"平均空室率","v":7.98},{"t":"2010-05-15","s":"平均空室率","v":8.05},{"t":"2010-06-15","s":"平均空室率","v":8.0},{"t":"2010-07-15","s":"平均空室率","v":7.8},{"t":"2010-08-15","s":"平均空室率","v":7.64},{"t":"2010-09-15","s":"平均空室率","v":7.98},{"t":"2010-10-15","s":"平均空室率","v":8.0},{"t":"2010-11-15","s":"平均空室率","v":7.85},{"t":"2010-12-15","s":"平均空室率","v":7.7},
{"t":"2011-01-15","s":"平均空室率","v":7.75},{"t":"2011-02-15","s":"平均空室率","v":7.9},{"t":"2011-03-15","s":"平均空室率","v":8.0},{"t":"2011-04-15","s":"平均空室率","v":7.6},{"t":"2011-05-15","s":"平均空室率","v":7.52},{"t":"2011-06-15","s":"平均空室率","v":7.4},{"t":"2011-07-15","s":"平均空室率","v":7.25},{"t":"2011-08-15","s":"平均空室率","v":7.12},{"t":"2011-09-15","s":"平均空室率","v":7.18},{"t":"2011-10-15","s":"平均空室率","v":7.24},{"t":"2011-11-15","s":"平均空室率","v":7.2},{"t":"2011-12-15","s":"平均空室率","v":7.4},
{"t":"2012-01-15","s":"平均空室率","v":7.74},{"t":"2012-02-15","s":"平均空室率","v":7.45},{"t":"2012-03-15","s":"平均空室率","v":7.52},{"t":"2012-04-15","s":"平均空室率","v":7.8},{"t":"2012-05-15","s":"平均空室率","v":7.92},{"t":"2012-06-15","s":"平均空室率","v":7.75},{"t":"2012-07-15","s":"平均空室率","v":7.58},{"t":"2012-08-15","s":"平均空室率","v":7.55}
]},
"mark":{"type":"line","clip":true},
"encoding":{
"x":{"field":"t","type":"temporal","scale":{"domain":[{"year":1999,"month":12,"date":1},{"year":2012,"month":9,"date":1}]},
"axis":{"title":null,"values":[{"year":1999,"month":12,"date":1},{"year":2000,"month":12,"date":1},{"year":2001,"month":12,"date":1},{"year":2002,"month":12,"date":1},{"year":2003,"month":12,"date":1},{"year":2004,"month":12,"date":1},{"year":2005,"month":12,"date":1},{"year":2006,"month":12,"date":1},{"year":2007,"month":12,"date":1},{"year":2008,"month":12,"date":1},{"year":2009,"month":12,"date":1},{"year":2010,"month":12,"date":1},{"year":2011,"month":12,"date":1}],"format":"%y/%m","grid":false,"tickColor":"black","tickSize":4,"domainColor":"black","domainWidth":2,"labelFontSize":12,"labelPadding":7,"labelFlush":false,"labelOverlap":false,"labelColor":"black","labelDx":2}},
"y":{"field":"v","type":"quantitative","scale":{"domain":[0,14]},
"axis":{"title":null,"values":[0,2,4,6,8,10,12,14],"labelExpr":"datum.value + '%'","grid":true,"gridColor":"#a6a6a6","ticks":false,"domainColor":"black","domainWidth":2,"labelFontSize":12,"labelPadding":8,"labelColor":"black"}},
"color":{"field":"s","type":"nominal","scale":{"domain":["大規模ビル","大型ビル","中型ビル","小型ビル","平均空室率"],"range":["#ff0000","#800000","#800000","#0000ff","#000080"]},"legend":{"title":null}},
"strokeDash":{"field":"s","type":"nominal","scale":{"domain":["大規模ビル","大型ビル","中型ビル","小型ビル","平均空室率"],"range":[[1,0],[1,0],[1.6,2.6],[1,0],[1,0]]},"legend":{"title":null}},
"strokeWidth":{"field":"s","type":"ordinal","scale":{"type":"ordinal","domain":["大規模ビル","大型ビル","中型ビル","小型ビル","平均空室率"],"range":[1.1,1.1,1.6,1.1,3]},"legend":{"title":null}}
}},
{"data":{"values":[{"a":"2008-01-27","b":"2011-07-30","lo":0.86,"hi":13.32}]},
"mark":{"type":"rect","filled":false,"color":"#008000","strokeWidth":3.5},
"encoding":{"x":{"field":"a","type":"temporal"},"x2":{"field":"b"},"y":{"field":"hi","type":"quantitative"},"y2":{"field":"lo"}}}
]
}
